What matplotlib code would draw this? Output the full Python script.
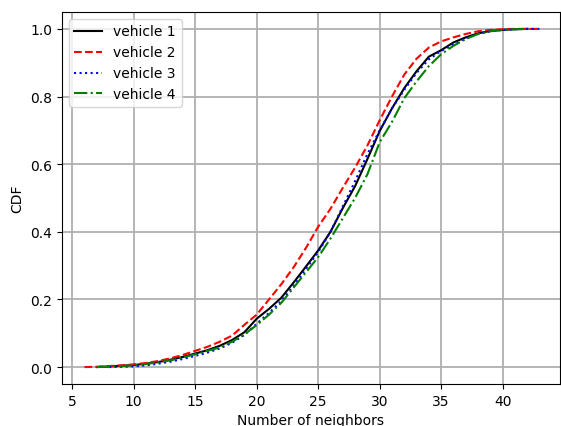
import numpy as np
import matplotlib
matplotlib.use("Agg")
import matplotlib.pyplot as plt

# CDF of neighbour counts at integer points
x1 = np.arange(7, 43)
cdf1 = [0.0, 0.002, 0.004, 0.006, 0.01, 0.015, 0.022, 0.03, 0.04, 0.05,
        0.063, 0.08, 0.103, 0.143, 0.172, 0.205, 0.25, 0.297, 0.345, 0.40,
        0.47, 0.535, 0.615, 0.698, 0.765, 0.825, 0.875, 0.918, 0.937, 0.96,
        0.975, 0.987, 0.994, 0.997, 0.999, 1.0]

x2 = np.arange(6, 44)
cdf2 = [0.0, 0.001, 0.003, 0.005, 0.008, 0.012, 0.018, 0.026, 0.036, 0.048,
        0.06, 0.075, 0.093, 0.125, 0.155, 0.2, 0.245, 0.295, 0.352, 0.415,
        0.468, 0.53, 0.59, 0.655, 0.73, 0.80, 0.865, 0.912, 0.945, 0.963,
        0.975, 0.985, 0.993, 0.997, 0.999, 1.0, 1.0, 1.0]

x3 = np.arange(8, 44)
cdf3 = [0.0, 0.001, 0.002, 0.005, 0.01, 0.016, 0.024, 0.033, 0.043, 0.055,
        0.072, 0.095, 0.128, 0.16, 0.195, 0.24, 0.29, 0.34, 0.40, 0.475,
        0.55, 0.63, 0.70, 0.765, 0.82, 0.87, 0.91, 0.935, 0.955, 0.972,
        0.985, 0.993, 0.997, 0.999, 1.0, 1.0]

x4 = np.arange(7, 43)
cdf4 = [0.0, 0.001, 0.003, 0.005, 0.009, 0.014, 0.02, 0.028, 0.038, 0.048,
        0.058, 0.075, 0.097, 0.124, 0.155, 0.19, 0.235, 0.28, 0.325, 0.38,
        0.44, 0.50, 0.57, 0.665, 0.725, 0.795, 0.845, 0.89, 0.925, 0.95,
        0.97, 0.985, 0.993, 0.997, 0.999, 1.0]

fig = plt.figure(figsize=(5.61, 4.27), dpi=100)
ax = fig.add_axes([0.1105, 0.0984, 0.8875, 0.8712])

ax.plot(x1, cdf1, 'k-', lw=1.5, label='vehicle 1')
ax.plot(x2, cdf2, 'r--', lw=1.5, label='vehicle 2')
ax.plot(x3, cdf3, 'b:', lw=1.5, label='vehicle 3')
ax.plot(x4, cdf4, 'g-.', lw=1.5, label='vehicle 4')

ax.set_xlim(4.17, 44.65)
ax.set_ylim(-0.05, 1.05)
ax.set_xticks([5, 10, 15, 20, 25, 30, 35, 40])
ax.set_yticks([0.0, 0.2, 0.4, 0.6, 0.8, 1.0])
ax.grid(True, color='#b0b0b0', lw=1.3)
ax.set_axisbelow(True)
ax.set_xlabel('Number of neighbors')
ax.set_ylabel('CDF')
ax.legend(loc='upper left')

fig.savefig('out.png', dpi=100)
